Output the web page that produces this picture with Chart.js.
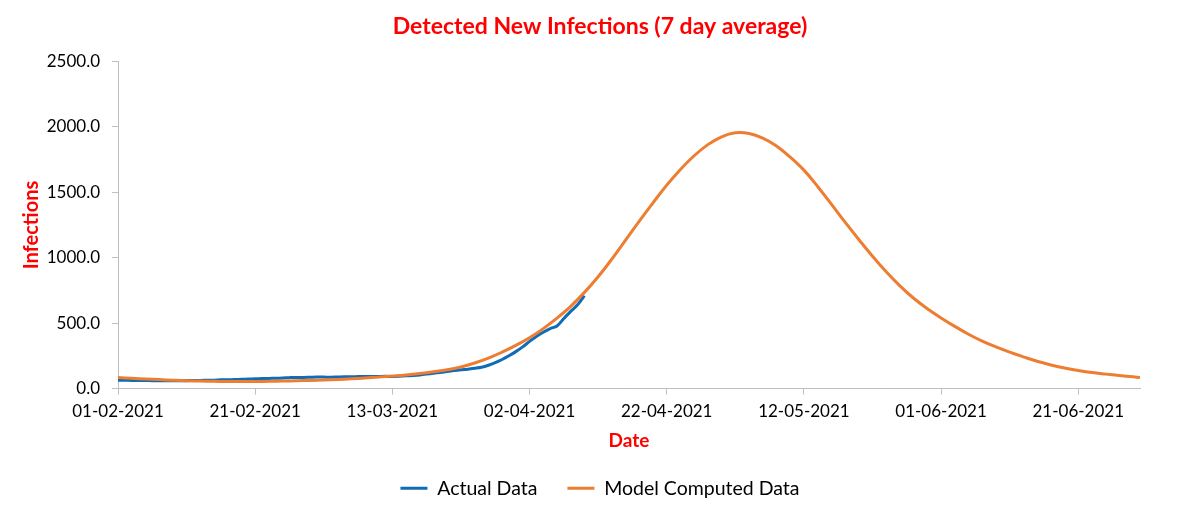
<!DOCTYPE html>
<html>
<head>
<meta charset="utf-8">
<script src="https://cdn.jsdelivr.net/npm/chart.js@4.4.1/dist/chart.umd.min.js"></script>
<style>
  html, body { margin: 0; padding: 0; background: #fff; }
  #wrap { width: 1200px; height: 513px; }
</style>
</head>
<body>
<div id="wrap"><canvas id="myChart"></canvas></div>
<script>
  // days counted from 01-02-2021
  var actualDays = [0, 1, 2, 3, 4, 5, 6, 7, 8, 9, 10, 11, 12, 13, 14, 15, 16, 17, 18, 19, 20,
    21, 22, 23, 24, 25, 26, 27, 28, 29, 30, 31, 32, 33, 34, 35, 36, 37, 38, 39, 40,
    41, 42, 43, 44, 45, 46, 47, 48, 49, 50, 51, 52, 53, 54, 55, 56, 57, 58, 59, 60,
    61, 62, 63, 64, 65, 66, 67, 68];
  var actualValues = [64, 63, 62, 61, 61, 60, 60, 59, 59, 59, 60, 61, 62, 63, 64, 66, 67, 68, 70, 72, 74,
    76, 77, 78, 80, 83, 85, 84, 86, 88, 87, 86, 88, 90, 89, 91, 92, 91, 92, 93, 92,
    94, 97, 100, 104, 110, 117, 123, 130, 137, 143, 148, 155, 163, 178, 198, 222, 250, 282, 318, 360,
    398, 430, 458, 478, 535, 590, 640, 710];

  var modelDays = [0, 2, 4, 6, 8, 10, 12, 14, 16, 18, 20, 22, 24, 26, 28, 30, 32, 34, 36, 38, 40,
    42, 44, 46, 48, 50, 52, 54, 56, 58, 60, 62, 64, 66, 68, 70, 72, 74, 76, 78, 80,
    82, 84, 86, 88, 90, 92, 94, 96, 98, 100, 102, 104, 106, 108, 110, 112, 114, 116, 118, 120,
    122, 124, 126, 128, 130, 132, 134, 136, 138, 140, 142, 144, 146, 148, 149];
  var modelValues = [84, 78, 73, 68, 63, 59, 57, 55, 54, 54, 54, 55, 57, 59, 62, 65, 69, 74, 80, 87, 95,
    104, 115, 128, 143, 165, 195, 232, 278, 330, 388, 458, 538, 628, 735, 855, 990, 1135, 1280, 1420, 1555,
    1675, 1780, 1865, 1925, 1955, 1950, 1915, 1855, 1770, 1670, 1545, 1410, 1272, 1140, 1012, 893, 785, 690, 610, 540,
    475, 415, 362, 318, 278, 242, 208, 180, 157, 138, 122, 110, 99, 89, 84];

  var seriesNames = ['Actual Data', 'Model Computed Data'];
  var titleText = 'Detected New Infections (7 day average)';
  var yTitle = 'Infections';
  var xTitle = 'Date';

  function pts(xs, ys) {
    return xs.map(function (d, i) { return { x: d, y: ys[i] }; });
  }

  function dayLabel(v) {
    var d = new Date(2021, 1, 1 + v);
    var dd = ('0' + d.getDate()).slice(-2);
    var mm = ('0' + (d.getMonth() + 1)).slice(-2);
    return dd + '-' + mm + '-' + d.getFullYear();
  }

  var red = '#ff0000';
  var axisGray = '#bfbfbf';
  var fontFam = 'Lato, "Open Sans", sans-serif';

  var ctx = document.getElementById('myChart');
  var chart = new Chart(ctx, {
    type: 'line',
    data: {
      datasets: [
        {
          label: seriesNames[0],
          data: pts(actualDays, actualValues),
          borderColor: '#0f6cb6',
          backgroundColor: '#0f6cb6',
          borderWidth: 3,
          pointRadius: 0,
          tension: 0.3,
          order: 2
        },
        {
          label: seriesNames[1],
          data: pts(modelDays, modelValues),
          borderColor: '#ed7d31',
          backgroundColor: '#ed7d31',
          borderWidth: 3,
          pointRadius: 0,
          tension: 0.4,
          order: 1
        }
      ]
    },
    options: {
      responsive: true,
      maintainAspectRatio: false,
      animation: false,
      layout: { padding: { left: 0, right: 0, top: 0, bottom: 5 } },
      plugins: {
        title: {
          display: true,
          text: titleText,
          color: red,
          font: { family: fontFam, size: 23, weight: 'bold' },
          padding: { top: 13, bottom: 21 }
        },
        legend: {
          position: 'bottom',
          labels: {
            usePointStyle: true,
            pointStyle: 'line',
            pointStyleWidth: 27,
            color: '#000',
            font: { family: fontFam, size: 19.5 },
            padding: 30,
            sort: function (a, b) { return a.datasetIndex - b.datasetIndex; }
          }
        },
        tooltip: { enabled: false }
      },
      scales: {
        x: {
          type: 'linear',
          min: 0,
          max: 149,
          afterFit: function (s) { s.height = 60; },
          border: { color: axisGray, width: 1 },
          grid: { display: true, drawOnChartArea: false, drawTicks: true, tickLength: 6, color: axisGray },
          ticks: {
            stepSize: 20,
            includeBounds: false,
            autoSkip: false,
            maxRotation: 0,
            padding: 7,
            color: '#000',
            font: { family: fontFam, size: 17 },
            callback: function (v) { return dayLabel(v); }
          },
          title: {
            display: true,
            text: xTitle,
            color: red,
            font: { family: fontFam, size: 19, weight: 'bold' },
            padding: { top: 0, bottom: -4 }
          }
        },
        y: {
          min: 0,
          max: 2500,
          afterFit: function (s) { s.width = 118; },
          border: { color: axisGray, width: 1 },
          grid: { display: true, drawOnChartArea: false, drawTicks: true, tickLength: 6, color: axisGray },
          ticks: {
            stepSize: 500,
            padding: 12,
            color: '#000',
            font: { family: fontFam, size: 17 },
            callback: function (v) { return v.toFixed(1); }
          },
          title: {
            display: true,
            text: yTitle,
            color: red,
            font: { family: fontFam, size: 20, weight: 'bold' },
            padding: { top: 20, bottom: 0 }
          }
        },
        // empty right-hand strip so the plot ends where the reference does
        yPad: {
          position: 'right',
          min: 0,
          max: 2500,
          afterFit: function (s) { s.width = 60; },
          border: { display: false },
          grid: { display: false },
          ticks: { display: false }
        }
      }
    }
  });
</script>
</body>
</html>
